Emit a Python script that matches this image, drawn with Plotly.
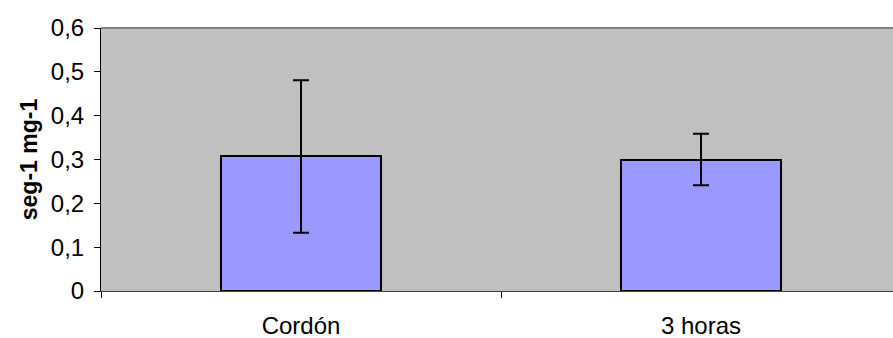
import plotly.graph_objects as go

categories = ["Cordón", "3 horas"]
values = [0.307, 0.300]
errors = [0.174, 0.059]
y_tick_vals = [0, 0.1, 0.2, 0.3, 0.4, 0.5, 0.6]
y_tick_text = ["0", "0,1", "0,2", "0,3", "0,4", "0,5", "0,6"]

font_family = "Liberation Sans, Arial, sans-serif"

fig = go.Figure(
    go.Bar(
        x=categories,
        y=values,
        width=0.4,
        marker=dict(color="#9999FF", line=dict(color="black", width=2)),
        error_y=dict(type="data", array=errors, visible=True,
                     color="black", thickness=2, width=8),
    )
)

fig.update_layout(
    width=893,
    height=338,
    margin=dict(l=101, r=0, t=28, b=47),
    paper_bgcolor="white",
    plot_bgcolor="#C0C0C0",
    showlegend=False,
    font=dict(family=font_family, size=24, color="black"),
    bargap=0,
    shapes=[
        dict(type="line", xref="paper", yref="paper", x0=0, x1=1, y0=1, y1=1,
             line=dict(color="#808080", width=2)),
    ],
)

fig.update_xaxes(
    type="category",
    range=[-0.5, 1.48],
    tickson="boundaries",
    ticks="outside",
    ticklen=6,
    tickcolor="black",
    showline=True,
    linecolor="#404040",
    linewidth=1,
    showgrid=False,
    tickfont=dict(size=24),
    ticklabelstandoff=13,
)

fig.update_yaxes(
    range=[0, 0.6],
    tickvals=y_tick_vals,
    ticktext=y_tick_text,
    ticks="outside",
    ticklen=6,
    tickcolor="black",
    showline=True,
    linecolor="black",
    linewidth=1,
    showgrid=False,
    zeroline=False,
    tickfont=dict(size=24),
    ticklabelstandoff=5,
    title=dict(text="<b>seg-1 mg-1</b>", font=dict(size=23), standoff=6),
)

fig.write_html("out.html")
